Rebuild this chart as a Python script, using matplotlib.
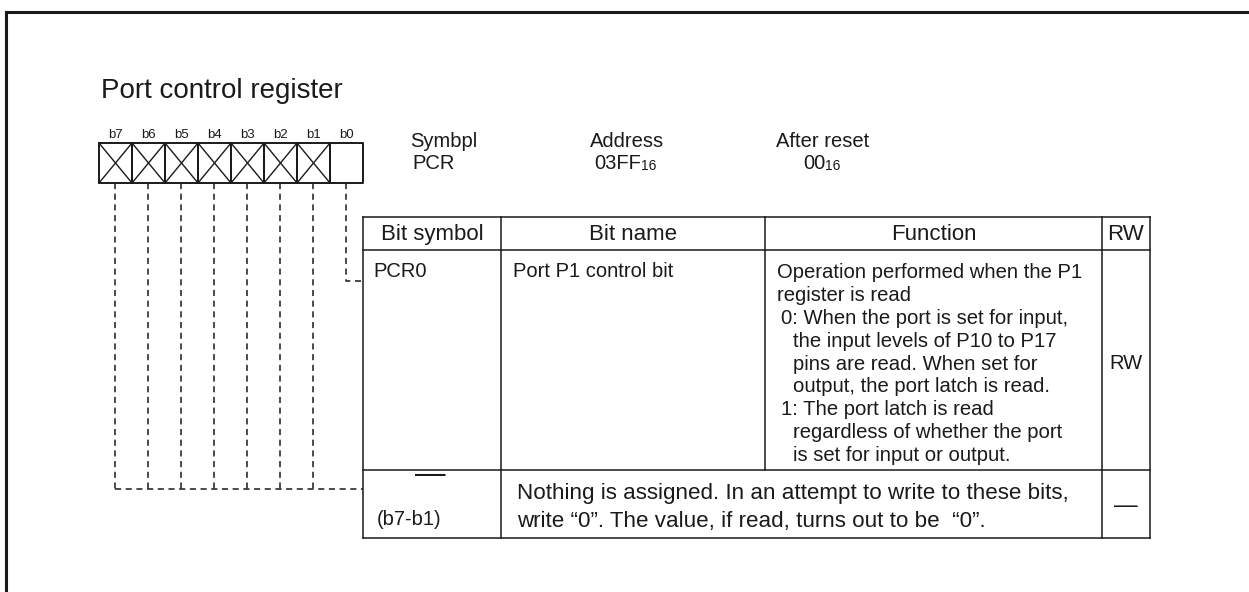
import matplotlib.pyplot as plt

plt.rcParams['font.family'] = ['Liberation Sans', 'DejaVu Sans']

# register / table contents
reg_title = 'Port control register'
bit_labels = ['b7', 'b6', 'b5', 'b4', 'b3', 'b2', 'b1', 'b0']
bit_unused = [1, 1, 1, 1, 1, 1, 1, 0]   # 1 = crossed out (nothing assigned)
info_heads = ['Symbpl', 'Address', 'After reset']
info_vals = ['PCR', '03FF', '00']
radix = '16'

headers = ['Bit symbol', 'Bit name', 'Function', 'RW']
pcr0_symbol = 'PCR0'
pcr0_name = 'Port P1 control bit'
pcr0_func = ['Operation performed when the P1',
             'register is read',
             '0: When the port is set for input,',
             'the input levels of P10 to P17',
             'pins are read. When set for',
             'output, the port latch is read.',
             '1: The port latch is read',
             'regardless of whether the port',
             'is set for input or output.']
pcr0_indent = [0, 0, 1, 2, 2, 2, 1, 2, 2]
pcr0_rw = 'RW'
rsv_symbol = '(b7-b1)'
rsv_text = ['Nothing is assigned. In an attempt to write to these bits,',
            'write \u201c0\u201d. The value, if read, turns out to be  \u201c0\u201d.']
rsv_rw = '\u2014'

ink = '#1a1a1a'
W, H = 1249, 592
fig = plt.figure(figsize=(W / 100, H / 100), dpi=100)
ax = fig.add_axes([0, 0, 1, 1])
ax.set_xlim(0, W)
ax.set_ylim(H, 0)
ax.axis('off')


def line(xs, ys, lw=1.1, ls='-'):
    ax.plot(xs, ys, color=ink, lw=lw, ls=ls, solid_capstyle='projecting')


# outer frame (only top and left edges are visible)
line([6, W + 5], [12, 12], lw=2.2)
line([6, 6], [12, H + 5], lw=2.2)

ax.text(101, 98, reg_title, fontsize=20, color=ink, va='baseline')

# bit box
bx0, bw, by0, by1 = 99, 33, 143, 183
for i, (lab, unused) in enumerate(zip(bit_labels, bit_unused)):
    x0 = bx0 + i * bw
    ax.text(x0 + bw / 2, 138, lab, fontsize=9.5, ha='center', va='baseline', color=ink)
    line([x0, x0 + bw, x0 + bw, x0, x0], [by0, by0, by1, by1, by0], lw=1.4)
    if unused:
        line([x0, x0 + bw], [by0, by1], lw=1.0)
        line([x0, x0 + bw], [by1, by0], lw=1.0)

# symbol / address / reset info
info_x = [410, 627, 823]
info_ha = ['left', 'center', 'center']
for x, ha, head, val in zip(info_x, info_ha, info_heads, info_vals):
    ax.text(x, 147, head, fontsize=14.5, ha=ha, va='baseline', color=ink)
    if head == 'Symbpl':
        ax.text(x + 2, 169, val, fontsize=14.5, ha='left', va='baseline', color=ink)
    else:
        t = ax.text(x - 9, 169, val, fontsize=14.5, ha='center', va='baseline', color=ink)
        ax.annotate(radix, xy=(1, 0), xycoords=t, fontsize=10, ha='left',
                    va='bottom', color=ink)

# table grid
cx = [363, 501, 765, 1102, 1150]
ry = [217, 250, 470, 538]
for y in ry:
    line([cx[0], cx[-1]], [y, y])
line([cx[0], cx[0]], [ry[0], ry[3]])
line([cx[1], cx[1]], [ry[0], ry[3]])
line([cx[2], cx[2]], [ry[0], ry[2]])
line([cx[3], cx[3]], [ry[0], ry[3]])
line([cx[4], cx[4]], [ry[0], ry[3]])

for i, h in enumerate(headers):
    ax.text((cx[i] + cx[i + 1]) / 2, 240, h, fontsize=16, ha='center',
            va='baseline', color=ink)

# PCR0 row
ax.text(373, 277, pcr0_symbol, fontsize=14.5, va='baseline', color=ink)
ax.text(513, 277, pcr0_name, fontsize=14.5, va='baseline', color=ink)
indent_px = [777, 781, 793]
for k, (txt, ind) in enumerate(zip(pcr0_func, pcr0_indent)):
    ax.text(indent_px[ind], 278 + k * 22.9, txt, fontsize=14.6, va='baseline', color=ink)
ax.text((cx[3] + cx[4]) / 2, 369, pcr0_rw, fontsize=14.5, ha='center', va='baseline', color=ink)

# reserved bits row
ax.text(430, 483, '\u2014', fontsize=22, ha='center', va='baseline', color=ink)
ax.text(377, 525, rsv_symbol, fontsize=14.5, va='baseline', color=ink)
ax.text(517, 499, rsv_text[0], fontsize=16.1, va='baseline', color=ink)
ax.text(517, 527, rsv_text[1], fontsize=16.1, va='baseline', color=ink)
ax.text((cx[3] + cx[4]) / 2, 512, rsv_rw, fontsize=17, ha='center', va='baseline', color=ink)

# dashed leader lines from the bits to the table
dash = (0, (4, 3))
centers = [bx0 + i * bw + bw / 2 for i in range(len(bit_labels))]
for c, unused in zip(centers, bit_unused):
    if unused:
        line([c, c], [by1, 489], ls=dash)
    else:
        line([c, c, cx[0]], [by1, 281, 281], ls=dash)
line([centers[0], cx[0]], [489, 489], ls=dash)

fig.savefig('out.png', dpi=100)
